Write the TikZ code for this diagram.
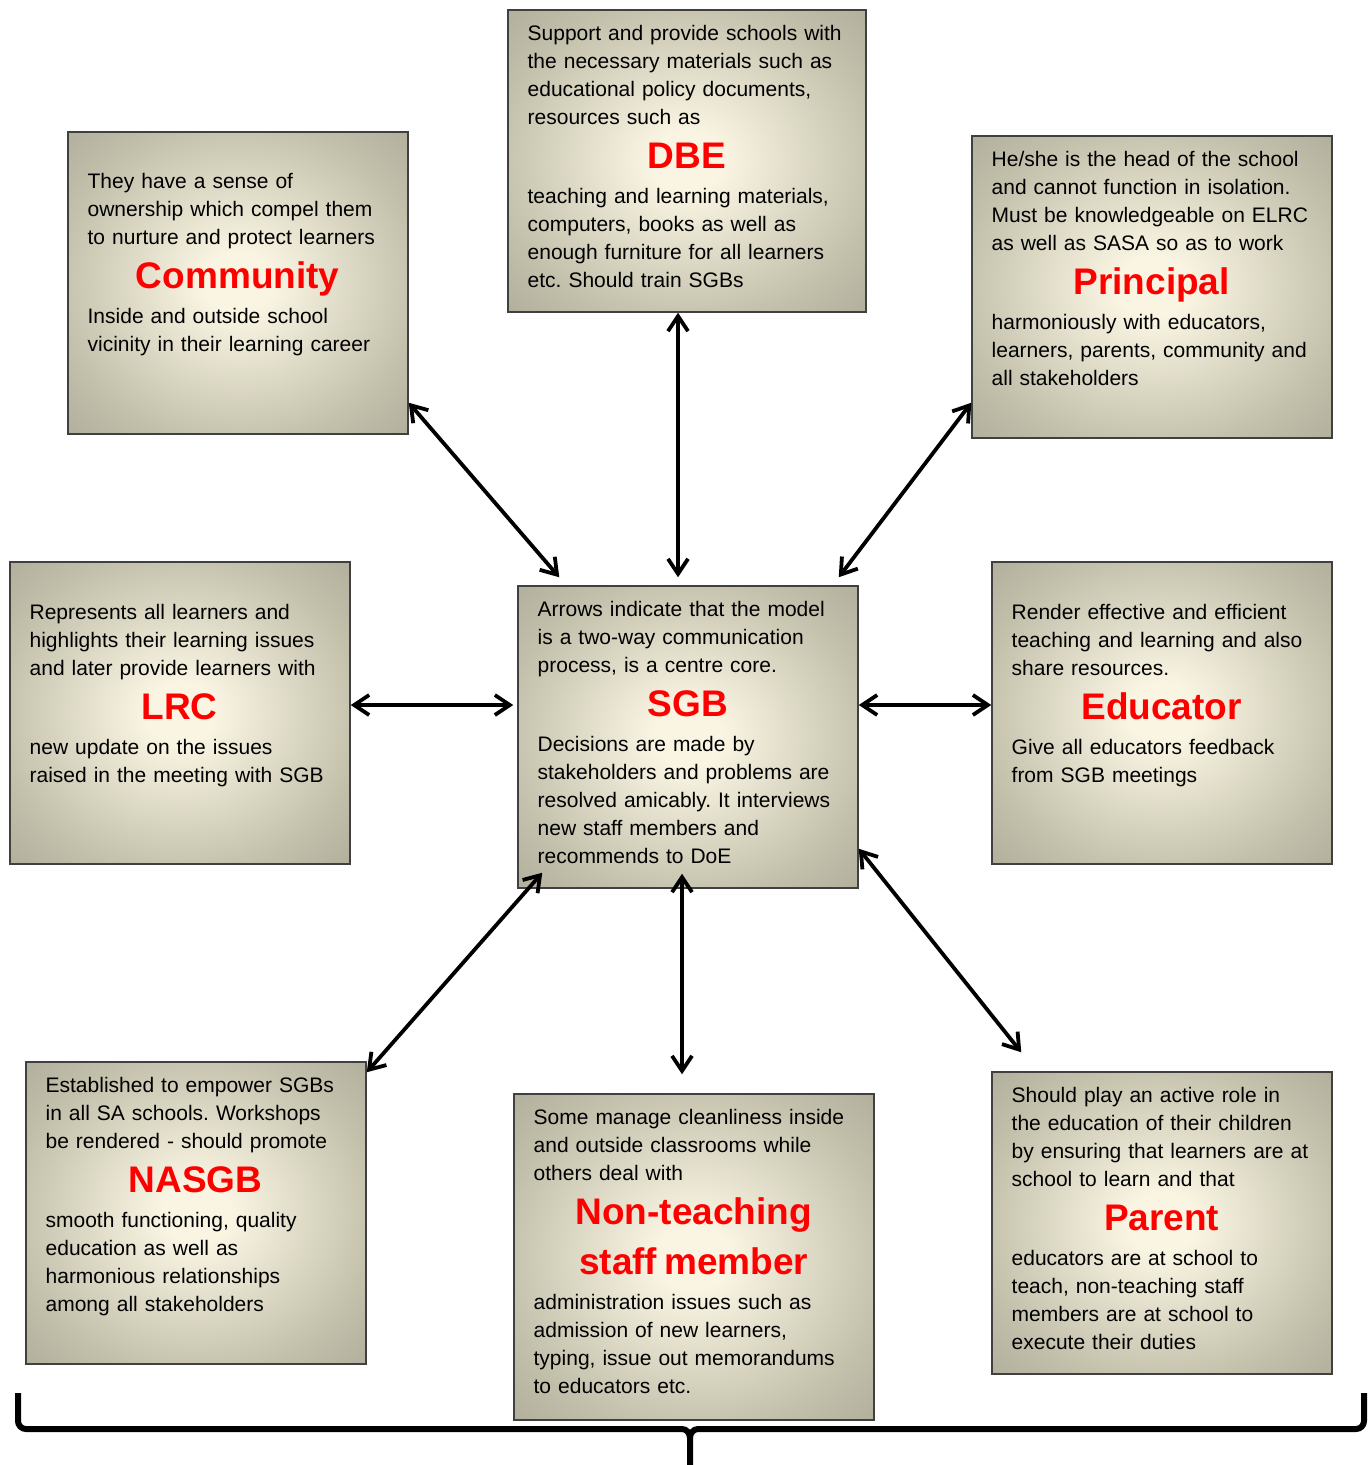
\documentclass[tikz,border=0pt]{standalone}
\usepackage{fontspec}
\setmainfont{Liberation Sans}
\usepackage{tikz}
\usetikzlibrary{positioning,arrows.meta}

\setlength{\parindent}{0pt}
\frenchspacing

\definecolor{boxin}{RGB}{249,245,226}
\definecolor{boxmid}{RGB}{194,191,171}
\definecolor{boxedge}{RGB}{150,147,132}
\definecolor{boxout}{RGB}{134,131,117}
\definecolor{boxline}{RGB}{64,64,64}

\pgfdeclareradialshading{boxglow}{\pgfpoint{0bp}{0bp}}{color(0bp)=(boxin); color(5bp)=(boxin); color(27bp)=(boxmid); color(50bp)=(boxedge); color(72bp)=(boxout)}

\newcommand{\boxtitle}[1]{\par{\centering\fontsize{18.5}{22}\selectfont\bfseries\textcolor{red}{#1}\par}\vspace{3.5pt}}

\begin{document}
\begin{tikzpicture}[x=0.5pt,y=-0.5pt,
                    box/.style={draw=boxline,line width=0.75pt,shade,shading=boxglow,
                                minimum width=170pt,minimum height=151pt,inner sep=0pt},
                    txt/.style={inner sep=0pt,text width=150pt,align=left,
                                font=\fontsize{10.5}{14}\selectfont},
                    link/.style={{Straight Barb[length=7.5pt,width=10pt]}-{Straight Barb[length=7.5pt,width=10pt]},
                                 line width=1.9pt},
                    bigbrace/.style={line width=3pt}]

       \useasboundingbox (0,0) rectangle (1367,1465);

       % boxes
       \node[box] (comm) at (238,283) {};
       \node[box,minimum width=179pt] (dbe) at (687,161) {};
       \node[box,minimum width=180pt] (prin) at (1152,287) {};
       \node[box] (lrc) at (180,713) {};
       \node[box] (sgb) at (688,737) {};
       \node[box] (edu) at (1162,713) {};
       \node[box] (nasgb) at (196,1213) {};
       \node[box,minimum width=180pt,minimum height=163pt] (nt) at (694,1257) {};
       \node[box] (par) at (1162,1223) {};

       % texts
       \node[txt] (commtxt) [below right=21pt and 10pt of comm.north west]
         {They have a sense of\\ownership which compel them\\to nurture and protect learners
          \boxtitle{Community}
          Inside and outside school\\vicinity in their learning career};
       \node[txt,text width=159pt] (dbetxt) [below right=7.8pt and 10pt of dbe.north west]
         {Support and provide schools with\\the necessary materials such as\\educational policy documents,\\resources such as
          \boxtitle{DBE}
          teaching and learning materials,\\computers, books as well as\\enough furniture for all learners\\etc. Should train SGBs};
       \node[txt,text width=160pt] (printxt) [below right=7.8pt and 10pt of prin.north west]
         {He/she is the head of the school\\and cannot function in isolation.\\Must be knowledgeable on ELRC\\as well as SASA so as to work
          \boxtitle{Principal}
          harmoniously with educators,\\learners, parents, community and\\all stakeholders};
       \node[txt] (lrctxt) [below right=21.3pt and 10pt of lrc.north west]
         {Represents all learners and\\highlights their learning issues\\and later provide learners with
          \boxtitle{LRC}
          new update on the issues\\raised in the meeting with SGB};
       \node[txt] (sgbtxt) [below right=7.8pt and 10pt of sgb.north west]
         {Arrows indicate that the model\\is a two-way communication\\process, is a centre core.
          \boxtitle{SGB}
          Decisions are made by\\stakeholders and problems are\\resolved amicably. It interviews\\new staff members and\\recommends to DoE};
       \node[txt] (edutxt) [below right=21.3pt and 10pt of edu.north west]
         {Render effective and efficient\\teaching and learning and also\\share resources.
          \boxtitle{Educator}
          Give all educators feedback\\from SGB meetings};
       \node[txt] (nasgbtxt) [below right=7.8pt and 10pt of nasgb.north west]
         {Established to empower SGBs\\in all SA schools. Workshops\\be rendered - should promote
          \boxtitle{NASGB}
          smooth functioning, quality\\education as well as\\harmonious relationships\\among all stakeholders};
       \node[txt,text width=160pt] (nttxt) [below right=7.8pt and 10pt of nt.north west]
         {Some manage cleanliness inside\\and outside classrooms while\\others deal with
          \boxtitle{Non-teaching\\[3pt]staff member}
          administration issues such as\\admission of new learners,\\typing, issue out memorandums\\to educators etc.};
       \node[txt] (partxt) [below right=7.8pt and 10pt of par.north west]
         {Should play an active role in\\the education of their children\\by ensuring that learners are at\\school to learn and that
          \boxtitle{Parent}
          educators are at school to\\teach, non-teaching staff\\members are at school to\\execute their duties};

       % two-way arrows
       \path[link]
         ([yshift=16pt]comm.south east) edge ([xshift=21pt,yshift=4pt]sgb.north west)
         ([xshift=-4.5pt]dbe.south) edge ([xshift=-5pt,yshift=4pt]sgb.north)
         ([yshift=18pt]prin.south west) edge ([xshift=-10pt,yshift=4pt]sgb.north east)
         ([yshift=4pt]lrc.east) edge ([xshift=-2pt,yshift=16pt]sgb.west)
         ([yshift=16pt]sgb.east) edge ([yshift=4pt]edu.west)
         ([xshift=12.5pt,yshift=8pt]sgb.south west) edge ([yshift=-5.5pt]nasgb.north east)
         ([xshift=-3pt,yshift=7.5pt]sgb.south) edge ([xshift=-6pt,yshift=9.5pt]nt.north)
         ([yshift=20pt]sgb.south east) edge ([xshift=15pt,yshift=9.5pt]par.north west);

       % brace under the whole model
       \draw[bigbrace] (18,1393) -- (18,1421) to[out=-90,in=180] (26,1429) -- (682,1429)
                       to[out=0,in=90] (690,1438) -- (690,1465);
       \draw[bigbrace] (1364,1393) -- (1364,1421) to[out=-90,in=0] (1356,1429) -- (698,1429)
                       to[out=180,in=90] (690,1438);
     \end{tikzpicture}
\end{document}
